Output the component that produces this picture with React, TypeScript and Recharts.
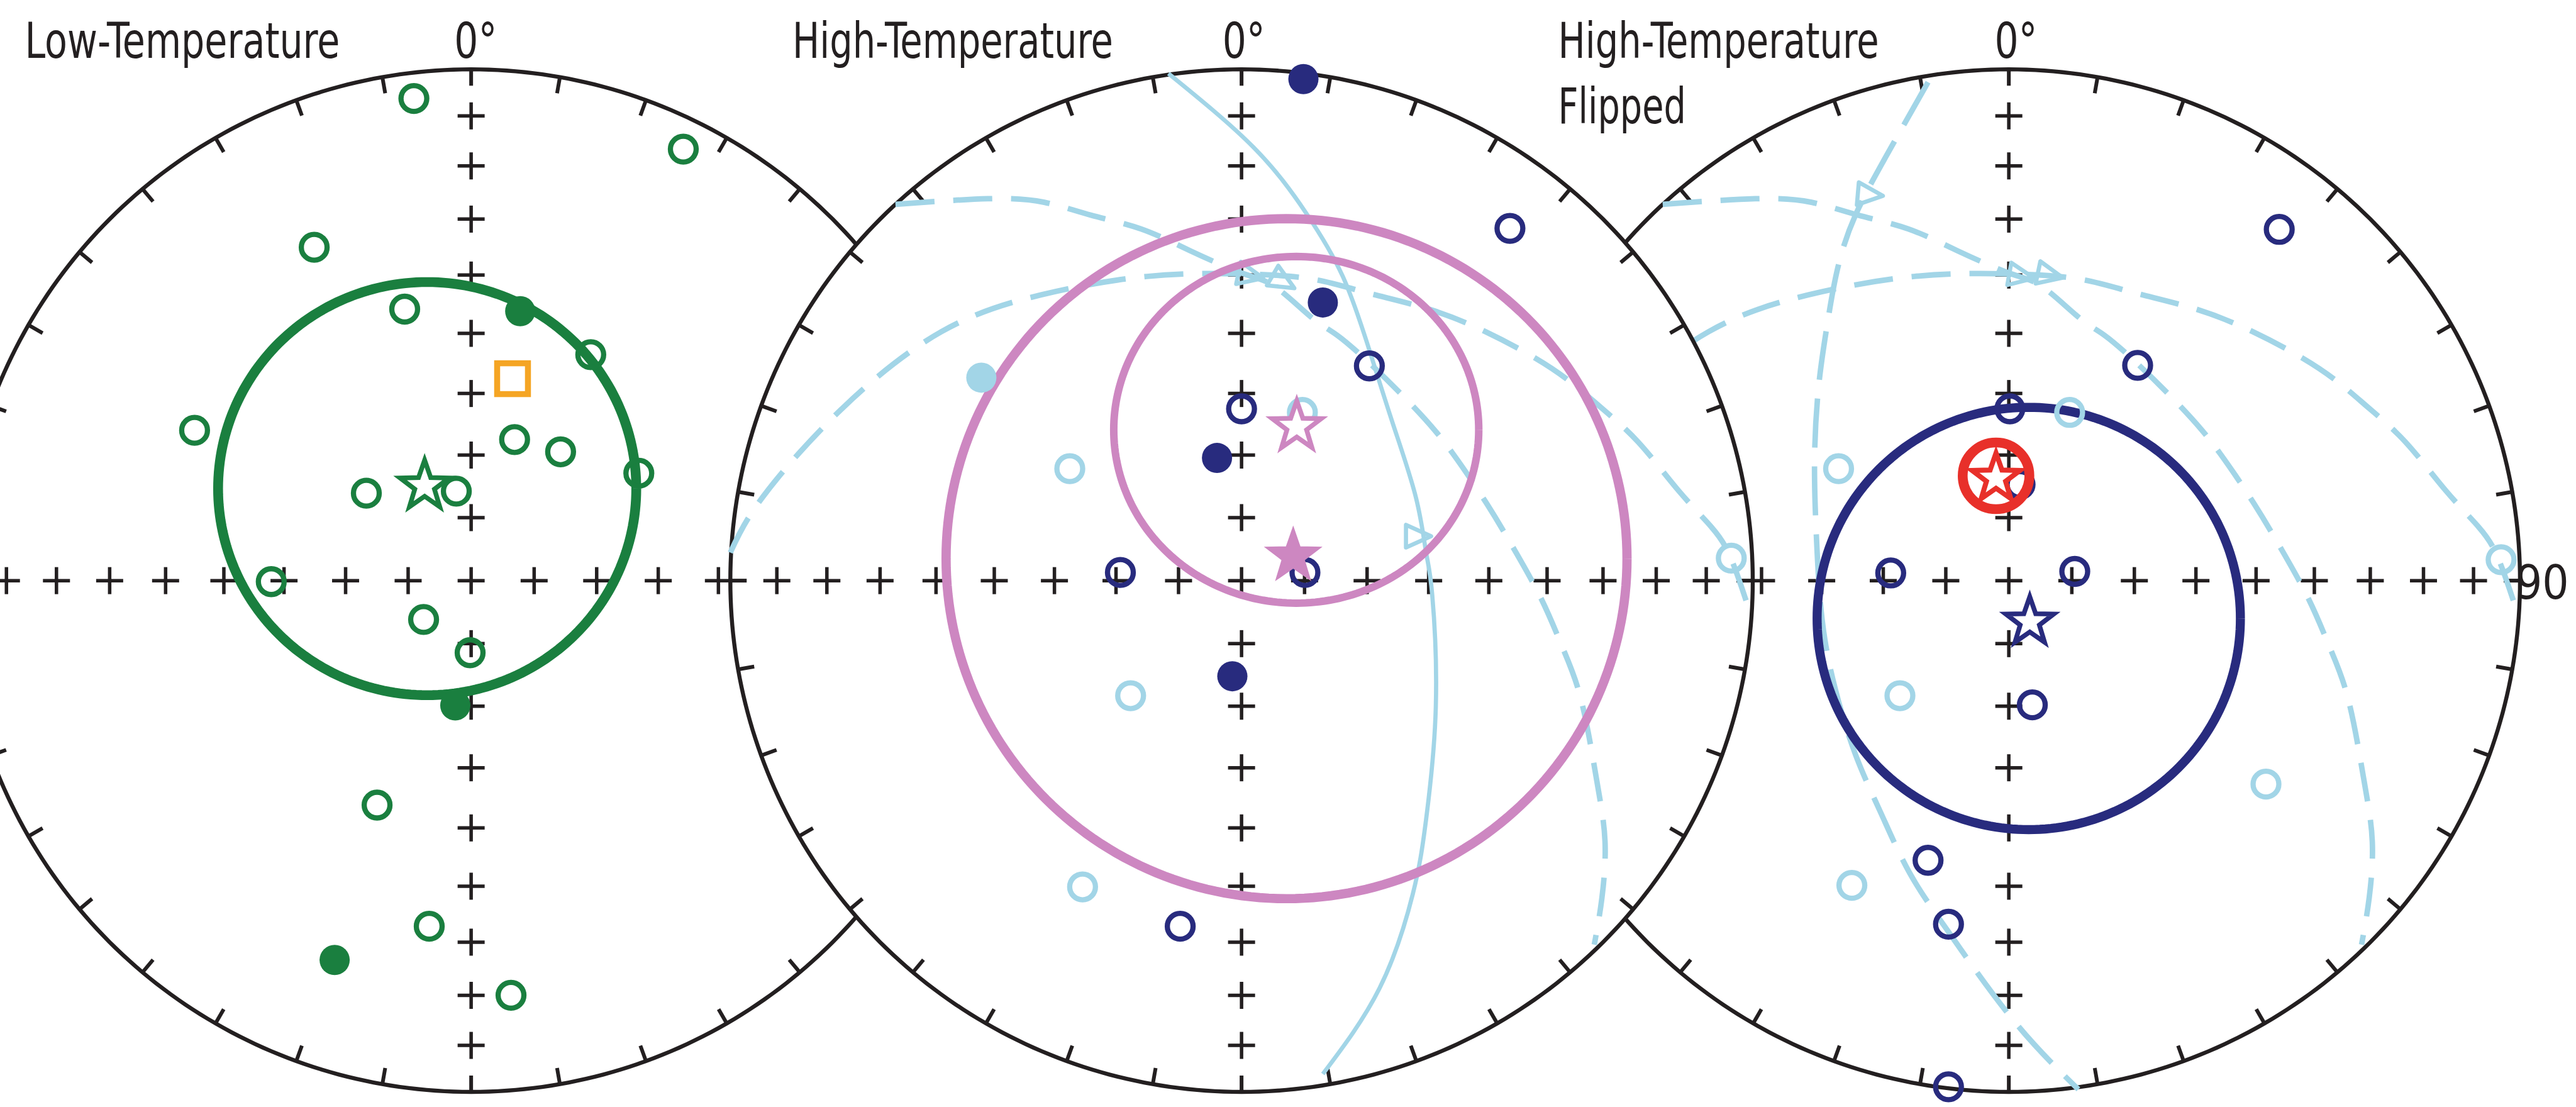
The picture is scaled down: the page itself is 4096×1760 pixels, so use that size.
import React from 'react';
import { ScatterChart, Scatter, XAxis, YAxis } from 'recharts';

type Pt = [number, number];
type Cone = { x: number; y: number; rx: number; ry: number };

// reference px -> window px
const K = 0.919;
const NET_R = 884.5 * K;
const HALF = 1.1; // axis half range, in net radii
const BOX = 2 * HALF * NET_R;
const NET_Y = 1005 * K;
const LEFT_X = 815 * K;
const MID_X = 2148 * K;
const RIGHT_X = 3476 * K;

const INK = '#231f20';
const GREEN = '#1a7f3f';
const NAVY = '#282b7e';
const PINK = '#cd87c1';
const SKY = '#a2d5e7';
const ORANGE = '#f5a524';
const RED = '#e8302a';
const FONT = "'Liberation Sans Narrow', 'DejaVu Sans Condensed', 'Liberation Sans', sans-serif";

// positions are equal-area net coordinates (east, north) in net radii

// Low-Temperature
const lowOpen: Pt[] = [
  [-0.112, 0.943], [0.415, 0.844], [-0.307, 0.652], [-0.130, 0.531], [0.234, 0.442],
  [-0.541, 0.294], [0.085, 0.276], [0.175, 0.252], [0.328, 0.210], [-0.205, 0.171],
  [-0.029, 0.175], [-0.391, -0.002], [-0.093, -0.076], [-0.002, -0.141], [-0.184, -0.439],
  [-0.082, -0.676], [0.078, -0.811],
];
const lowFilled: Pt[] = [[0.096, 0.527], [-0.031, -0.244], [-0.267, -0.742]];
const lowSquare: Pt[] = [[0.081, 0.395]];
const lowMean: Pt[] = [[-0.091, 0.19]];
const lowCone: Cone = { x: -0.086, y: 0.18, rx: 0.409, ry: 0.404 };

// High-Temperature
const highFilledNavy: Pt[] = [[0.121, 0.981], [0.159, 0.544], [-0.048, 0.24], [-0.018, -0.187]];
const highOpenNavy: Pt[] = [
  [0.525, 0.689], [0.25, 0.42], [0.0, 0.336], [-0.237, 0.016], [0.124, 0.016], [-0.12, -0.676],
];
const highFilledSky: Pt[] = [[-0.509, 0.397]];
const highOpenSky: Pt[] = [[0.119, 0.329], [-0.336, 0.219], [-0.217, -0.225], [-0.311, -0.599], [0.958, 0.044]];
const highMeanOpen: Pt[] = [[0.108, 0.306]];
const highMeanFilled: Pt[] = [[0.101, 0.053]];
const highConeOuter: Cone = { x: 0.088, y: 0.043, rx: 0.666, ry: 0.665 };
const highConeInner: Cone = { x: 0.107, y: 0.295, rx: 0.357, ry: 0.339 };
const highArrows = [
  { x: 0.017, y: 0.597, rot: 12 },
  { x: 0.081, y: 0.585, rot: 30 },
  { x: 0.345, y: 0.087, rot: 0 },
];

// High-Temperature Flipped
const flipOpenNavy: Pt[] = [
  [0.529, 0.687], [0.252, 0.421], [0.002, 0.336], [0.022, 0.188], [-0.231, 0.015],
  [0.129, 0.018], [0.046, -0.243], [-0.158, -0.547], [-0.118, -0.672], [-0.118, -0.99],
];
const flipOpenSky: Pt[] = [[0.119, 0.329], [-0.333, 0.219], [0.963, 0.041], [-0.213, -0.225], [0.503, -0.398], [-0.307, -0.596]];
const flipMean: Pt[] = [[0.041, -0.076]];
const flipCone: Cone = { x: 0.039, y: -0.074, rx: 0.414, ry: 0.413 };
const flipRef: Pt[] = [[-0.025, 0.205]];
const flipArrows = [
  { x: 0.024, y: 0.596, rot: 10 },
  { x: 0.08, y: 0.598, rot: 12 },
  { x: -0.272, y: 0.755, rot: 5 },
];

// great circles traced through the nets
const gcA: Pt[] = [
  [-0.677, 0.736], [-0.496, 0.747], [-0.386, 0.74], [-0.295, 0.715], [-0.197, 0.688], [-0.1, 0.645],
  [0.005, 0.6], [0.067, 0.574], [0.138, 0.514], [0.187, 0.48], [0.255, 0.421], [0.346, 0.33],
  [0.413, 0.249], [0.48, 0.15], [0.534, 0.06], [0.587, -0.037], [0.628, -0.131], [0.665, -0.236],
  [0.695, -0.392], [0.711, -0.51], [0.705, -0.62], [0.69, -0.712],
];
const gcB: Pt[] = [
  [-1.0, 0.055], [-0.937, 0.163], [-0.782, 0.336], [-0.587, 0.487], [-0.392, 0.559], [-0.185, 0.595],
  [0.0, 0.6], [0.137, 0.59], [0.242, 0.564], [0.36, 0.533], [0.477, 0.487], [0.607, 0.415],
  [0.698, 0.343], [0.776, 0.271], [0.854, 0.177], [0.919, 0.105], [0.958, 0.042], [0.997, -0.07],
];
const gcLower: Pt[] = [
  [-0.143, 0.992], [0.023, 0.848], [0.127, 0.718], [0.198, 0.595], [0.25, 0.451], [0.296, 0.307],
  [0.341, 0.163], [0.361, 0.055], [0.373, -0.028], [0.38, -0.247], [0.361, -0.467], [0.335, -0.613],
  [0.27, -0.797], [0.159, -0.965],
];
const gcUpper: Pt[] = [
  [-0.158, 0.975], [-0.24, 0.83], [-0.3, 0.715], [-0.335, 0.61], [-0.356, 0.496], [-0.372, 0.38],
  [-0.38, 0.235], [-0.376, 0.078], [-0.365, -0.078], [-0.34, -0.21], [-0.3, -0.34], [-0.25, -0.455],
  [-0.195, -0.57], [-0.118, -0.687], [0.009, -0.86], [0.136, -0.995],
];

const GRID_INC = [10, 20, 30, 40, 50, 60, 70, 80];
const TICK_AZ = Array.from({ length: 36 }, (_, k) => k * 10);

const titles = [
  { text: 'Low-Temperature', x: 43, y: 100, w: 545 },
  { text: 'High-Temperature', x: 1371, y: 100, w: 555 },
  { text: 'High-Temperature', x: 2696, y: 100, w: 555 },
  { text: 'Flipped', x: 2696, y: 213, w: 221 },
  { text: '0°', x: 786, y: 100, w: 74 },
  { text: '0°', x: 2115, y: 100, w: 74 },
  { text: '0°', x: 3451, y: 100, w: 74 },
];

const toRows = (pts: Pt[]) => pts.map(([x, y]) => ({ x, y }));
const ellipse = (c: Cone, n = 240) =>
  Array.from({ length: n + 1 }, (_, i) => {
    const t = (2 * Math.PI * i) / n;
    return { x: c.x + c.rx * Math.cos(t), y: c.y + c.ry * Math.sin(t) };
  });
const eqArea = (inc: number) => Math.SQRT2 * Math.sin(((90 - inc) / 2) * (Math.PI / 180));

const rimRows = ellipse({ x: 0, y: 0, rx: 1, ry: 1 }, 360);
const tickRows = TICK_AZ.map((az) => ({ x: Math.sin((az * Math.PI) / 180), y: Math.cos((az * Math.PI) / 180), az }));
const crossRows = [
  { x: 0, y: 0 },
  ...GRID_INC.flatMap((inc) => {
    const r = eqArea(inc);
    return [{ x: r, y: 0 }, { x: -r, y: 0 }, { x: 0, y: r }, { x: 0, y: -r }];
  }),
];

const starPath = (cx: number, cy: number, ro: number, ri: number) => {
  let d = '';
  for (let i = 0; i < 10; i++) {
    const r = i % 2 === 0 ? ro : ri;
    const a = -Math.PI / 2 + (i * Math.PI) / 5;
    d += (i ? 'L' : 'M') + (cx + r * Math.cos(a)).toFixed(2) + ',' + (cy + r * Math.sin(a)).toFixed(2);
  }
  return d + 'Z';
};

const noMark = () => <g />;
const tickMark = (p: any) => {
  const a = (p.payload.az * Math.PI) / 180;
  const len = 26;
  return <line x1={p.cx} y1={p.cy} x2={p.cx - Math.sin(a) * len} y2={p.cy + Math.cos(a) * len} stroke={INK} strokeWidth={6} />;
};
const crossMark = (p: any) => (
  <g stroke={INK} strokeWidth={5.5}>
    <line x1={p.cx - 21.5} y1={p.cy} x2={p.cx + 21.5} y2={p.cy} />
    <line x1={p.cx} y1={p.cy - 21.5} x2={p.cx} y2={p.cy + 21.5} />
  </g>
);
const openDot = (color: string) => (p: any) => (
  <circle cx={p.cx} cy={p.cy} r={20.5} fill="none" stroke={color} strokeWidth={8.3} />
);
const solidDot = (color: string) => (p: any) => <circle cx={p.cx} cy={p.cy} r={24} fill={color} />;
const starMark = (color: string, ro: number, filled: boolean) => (p: any) => (
  <path
    d={starPath(p.cx, p.cy + 0.095 * ro, ro, ro * 0.4)}
    fill={filled ? color : '#fff'}
    stroke={color}
    strokeWidth={filled ? 2 : 7.5}
  />
);
const squareMark = (p: any) => (
  <rect x={p.cx - 24.5} y={p.cy - 24.5} width={49} height={49} fill="none" stroke={ORANGE} strokeWidth={9.5} />
);
const ringMark = (p: any) => (
  <g>
    <circle cx={p.cx} cy={p.cy} r={53} fill="none" stroke={RED} strokeWidth={15.6} />
    <path d={starPath(p.cx, p.cy + 3.8, 40, 16)} fill="#fff" stroke={RED} strokeWidth={8} />
  </g>
);
const arrowMark = (p: any) => (
  <polygon
    points="21,0 -19,-18 -19,18"
    transform={`translate(${p.cx},${p.cy}) rotate(${p.payload.rot})`}
    fill="none"
    stroke={SKY}
    strokeWidth={6.6}
    strokeLinejoin="round"
  />
);

const frame = (id: string) => [
  <Scatter
    key={id + '-rim'}
    data={rimRows}
    shape={noMark}
    line={{ stroke: INK, strokeWidth: 6.4, fill: '#fff' }}
    lineType="joint"
    lineJointType="linear"
    isAnimationActive={false}
  />,
  <Scatter key={id + '-ticks'} data={tickRows} shape={tickMark} isAnimationActive={false} />,
  <Scatter key={id + '-cross'} data={crossRows} shape={crossMark} isAnimationActive={false} />,
];

const curve = (key: string, pts: Pt[], width: number, dash?: string) => (
  <Scatter
    key={key}
    data={toRows(pts)}
    shape={noMark}
    line={{ stroke: SKY, strokeWidth: width, strokeDasharray: dash, fill: 'none' }}
    lineType="joint"
    lineJointType="natural"
    isAnimationActive={false}
  />
);

const cone = (key: string, c: Cone, color: string, width: number) => (
  <Scatter
    key={key}
    data={ellipse(c)}
    shape={noMark}
    line={{ stroke: color, strokeWidth: width, fill: 'none' }}
    lineType="joint"
    lineJointType="linear"
    isAnimationActive={false}
  />
);

const marks = (key: string, pts: Pt[] | any[], shape: any) => (
  <Scatter key={key} data={Array.isArray(pts[0]) ? toRows(pts as Pt[]) : pts} shape={shape} isAnimationActive={false} />
);

function Net({ cx, items }: { cx: number; items: React.ReactNode[] }) {
  return (
    <div style={{ position: 'absolute', left: cx - BOX / 2, top: NET_Y - BOX / 2, width: BOX, height: BOX }}>
      <ScatterChart width={BOX} height={BOX} margin={{ top: 0, right: 0, bottom: 0, left: 0 }}>
        <XAxis type="number" dataKey="x" domain={[-HALF, HALF]} allowDataOverflow hide />
        <YAxis type="number" dataKey="y" domain={[-HALF, HALF]} allowDataOverflow hide />
        {items}
      </ScatterChart>
    </div>
  );
}

const DASH = '62 30';
const DASH_LONG = '78 30';

export default function App() {
  const lowItems = [
    ...frame('low'),
    cone('low-cone', lowCone, GREEN, 15.6),
    marks('low-open', lowOpen, openDot(GREEN)),
    marks('low-filled', lowFilled, solidDot(GREEN)),
    marks('low-square', lowSquare, squareMark),
    marks('low-mean', lowMean, starMark(GREEN, 41, false)),
  ];
  const highItems = [
    ...frame('high'),
    curve('high-a', gcA, 8.7, DASH),
    curve('high-b', gcB, 8.7, DASH),
    curve('high-s', gcLower, 6.7),
    marks('high-arrows', highArrows, arrowMark),
    cone('high-cone-outer', highConeOuter, PINK, 14.7),
    cone('high-cone-inner', highConeInner, PINK, 12),
    marks('high-sky-open', highOpenSky, openDot(SKY)),
    marks('high-sky-filled', highFilledSky, solidDot(SKY)),
    marks('high-navy-open', highOpenNavy, openDot(NAVY)),
    marks('high-navy-filled', highFilledNavy, solidDot(NAVY)),
    marks('high-mean-open', highMeanOpen, starMark(PINK, 41, false)),
    marks('high-mean-filled', highMeanFilled, starMark(PINK, 46, true)),
  ];
  const flipItems = [
    ...frame('flip'),
    curve('flip-a', gcA, 8.7, DASH),
    curve('flip-b', gcB, 8.7, DASH),
    curve('flip-e', gcUpper, 8.7, DASH_LONG),
    marks('flip-arrows', flipArrows, arrowMark),
    cone('flip-cone', flipCone, NAVY, 14.4),
    marks('flip-sky-open', flipOpenSky, openDot(SKY)),
    marks('flip-navy-open', flipOpenNavy, openDot(NAVY)),
    marks('flip-mean', flipMean, starMark(NAVY, 40, false)),
    marks('flip-ref', flipRef, ringMark),
  ];

  return (
    <div style={{ position: 'absolute', left: 0, top: 0, width: 4096, height: 1760, overflow: 'hidden', background: '#fff' }}>
      <Net cx={LEFT_X} items={lowItems} />
      <Net cx={RIGHT_X} items={flipItems} />
      <Net cx={MID_X} items={highItems} />
      <svg width={4096} height={1760} style={{ position: 'absolute', left: 0, top: 0, pointerEvents: 'none' }}>
        <g fill={INK} fontFamily={FONT} fontSize={78}>
          {titles.map((t, i) => (
            <text key={i} x={t.x * K} y={t.y * K} textLength={t.w * K} lengthAdjust="spacingAndGlyphs">
              {t.text}
            </text>
          ))}
          <text x={4000} y={1036 * K} fontSize={74}>90</text>
        </g>
      </svg>
    </div>
  );
}
